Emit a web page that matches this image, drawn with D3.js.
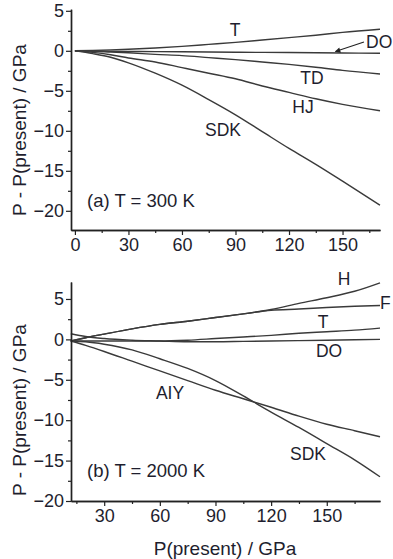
<!DOCTYPE html>
<html>
<head>
<meta charset="utf-8">
<script src="https://cdn.jsdelivr.net/npm/d3@7"></script>
<style>
  html, body { margin: 0; padding: 0; background: #fff; }
  svg { display: block; }
  text { font-family: "Liberation Sans", Arial, sans-serif; fill: #1e1e2e; }
</style>
</head>
<body>
<svg id="chart" width="393" height="559"></svg>
<script>
// ---------- data: panel (a) T = 300 K ----------
const pTop   = [0, 10, 20, 30, 45, 60, 75, 90, 105, 120, 135, 150, 171];
const aT     = [0, 0.05, 0.12, 0.2, 0.35, 0.55, 0.8, 1.05, 1.35, 1.65, 1.95, 2.3, 2.7];
const aDO    = [0, 0, -0.05, -0.08, -0.1, -0.12, -0.15, -0.18, -0.2, -0.22, -0.25, -0.28, -0.3];
const aTD    = [0, -0.05, -0.15, -0.25, -0.45, -0.6, -0.85, -1.1, -1.4, -1.7, -2.05, -2.45, -2.9];
const aHJ    = [0, -0.2, -0.5, -0.9, -1.4, -2.1, -2.8, -3.5, -4.4, -5.2, -6.0, -6.7, -7.5];
const aSDK   = [0, -0.35, -0.8, -1.5, -2.8, -4.3, -6.1, -8.0, -10.1, -12.2, -14.2, -16.3, -19.3];

// ---------- data: panel (b) T = 2000 K ----------
const pBot   = [12, 20, 30, 45, 60, 75, 90, 105, 120, 135, 150, 165, 178.7];
const bH     = [-0.2, 0.2, 0.65, 1.3, 1.85, 2.25, 2.7, 3.15, 3.7, 4.45, 5.15, 5.95, 7.0];
const bF     = [-0.2, 0.2, 0.65, 1.3, 1.85, 2.25, 2.7, 3.15, 3.6, 3.75, 3.95, 4.1, 4.2];
const bT     = [-0.2, -0.2, -0.2, -0.2, -0.2, -0.1, 0.1, 0.3, 0.5, 0.75, 0.95, 1.15, 1.4];
const bDO    = [0.7, 0.35, 0.1, -0.1, -0.2, -0.3, -0.3, -0.25, -0.2, -0.15, -0.1, -0.05, 0.0];
const bSDK   = [-0.2, -0.3, -0.6, -1.3, -2.4, -3.6, -5.1, -7.0, -9.0, -10.9, -12.9, -14.9, -17.0];
const bAIY   = [-0.2, -0.75, -1.5, -2.7, -3.9, -5.1, -6.3, -7.35, -8.4, -9.5, -10.5, -11.3, -12.05];

// ---------- ticks ----------
const xTicksTop   = [0, 30, 60, 90, 120, 150];
const xMinorTop   = [15, 45, 75, 105, 135, 165];
const xTicksBot   = [30, 60, 90, 120, 150];
const xMinorBot   = [15, 45, 75, 105, 135, 165];
const yTicks      = [5, 0, -5, -10, -15, -20];
const yMinor      = [2.5, -2.5, -7.5, -12.5, -17.5];

// ---------- labels ----------
const topLabels = [
  {t: "T",   x: 235, y: 30, a: "middle"},
  {t: "DO",  x: 366, y: 42, a: "start"},
  {t: "TD",  x: 312, y: 78, a: "middle"},
  {t: "HJ",  x: 303, y: 107, a: "middle"},
  {t: "SDK", x: 223, y: 130, a: "middle"},
  {t: "(a) T = 300 K", x: 87, y: 201, a: "start"}
];
const botLabels = [
  {t: "H",   x: 344, y: 279, a: "middle"},
  {t: "F",   x: 380, y: 303, a: "start"},
  {t: "T",   x: 323, y: 322, a: "middle"},
  {t: "DO",  x: 329, y: 351, a: "middle"},
  {t: "AIY", x: 170, y: 393, a: "middle"},
  {t: "SDK", x: 308, y: 454, a: "middle"},
  {t: "(b) T = 2000 K", x: 87, y: 471, a: "start"}
];

const svg = d3.select("#chart");
const FS = 18.5;   // in-plot labels
const TFS = 18;    // tick labels

function panel(cfg) {
  const g = svg.append("g");
  const x = d3.scaleLinear().domain(cfg.xd).range([71, 380]);
  const y = d3.scaleLinear().domain(cfg.yd).range(cfg.yr);

  const line = d3.line().curve(d3.curveMonotoneX)
    .x(d => x(d[0])).y(d => y(d[1]));
  cfg.series.forEach(s => {
    g.append("path")
      .attr("d", line(cfg.p.map((p, i) => [p, s[i]])))
      .attr("fill", "none").attr("stroke", "#3a3a3a").attr("stroke-width", 1.4);
  });

  g.append("g").attr("transform", `translate(0,${cfg.yr[0]})`)
    .call(d3.axisBottom(x).tickValues(cfg.xt).tickSize(5).tickSizeOuter(0).tickPadding(3).tickFormat(d3.format("d")));
  g.append("g").attr("transform", `translate(0,${cfg.yr[0]})`)
    .call(d3.axisBottom(x).tickValues(cfg.xm).tickSize(3).tickSizeOuter(0).tickFormat(""));
  g.append("g").attr("transform", `translate(71,0)`)
    .call(d3.axisLeft(y).tickValues(yTicks).tickSize(5).tickSizeOuter(0).tickPadding(2).tickFormat(d3.format("d")));
  g.append("g").attr("transform", `translate(71,0)`)
    .call(d3.axisLeft(y).tickValues(yMinor).tickSize(3).tickSizeOuter(0).tickFormat(""));

  g.selectAll(".domain").attr("stroke", "#222").attr("stroke-width", 1.4);
  g.selectAll(".tick line").attr("stroke", "#222").attr("stroke-width", 1.2);
  g.selectAll(".tick text").attr("font-size", TFS).attr("fill", "#1e1e2e")
    .attr("font-family", '"Liberation Sans", Arial, sans-serif');

  cfg.labels.forEach(l => {
    g.append("text").attr("x", l.x).attr("y", l.y).attr("dy", "0.35em")
      .attr("text-anchor", l.a).attr("font-size", l.t.length > 4 ? FS : 17.5).text(l.t);
  });

  g.append("text").attr("transform", `translate(19,${cfg.ytc}) rotate(-90)`)
    .attr("text-anchor", "middle").attr("dy", "0.35em").attr("font-size", 19)
    .text("P - P(present) / GPa");
  return {x, y, g};
}

const A = panel({
  p: pTop, series: [aT, aDO, aTD, aHJ, aSDK],
  xd: [-2.2, 171], yd: [-22.4, 5.2], yr: [230, 9.2],
  xt: xTicksTop, xm: xMinorTop, labels: topLabels, ytc: 130
});

const defs = svg.append("defs");
defs.append("marker").attr("id", "ah").attr("viewBox", "0 0 10 10")
  .attr("refX", 9).attr("refY", 5).attr("markerWidth", 7).attr("markerHeight", 5)
  .attr("orient", "auto")
  .append("path").attr("d", "M0,0 L10,5 L0,10 z").attr("fill", "#222");
A.g.append("line")
  .attr("x1", A.x(162)).attr("y1", A.y(1.1))
  .attr("x2", A.x(146)).attr("y2", A.y(-0.1))
  .attr("stroke", "#222").attr("stroke-width", 1.1).attr("marker-end", "url(#ah)");

const B = panel({
  p: pBot, series: [bH, bF, bT, bDO, bSDK, bAIY],
  xd: [12.1, 178.7], yd: [-20, 7.1], yr: [501, 282],
  xt: xTicksBot, xm: xMinorBot, labels: botLabels, ytc: 410
});

svg.append("text").attr("x", 225).attr("y", 548).attr("dy", "0.35em")
  .attr("text-anchor", "middle").attr("font-size", 19).text("P(present) / GPa");
</script>
</body>
</html>
